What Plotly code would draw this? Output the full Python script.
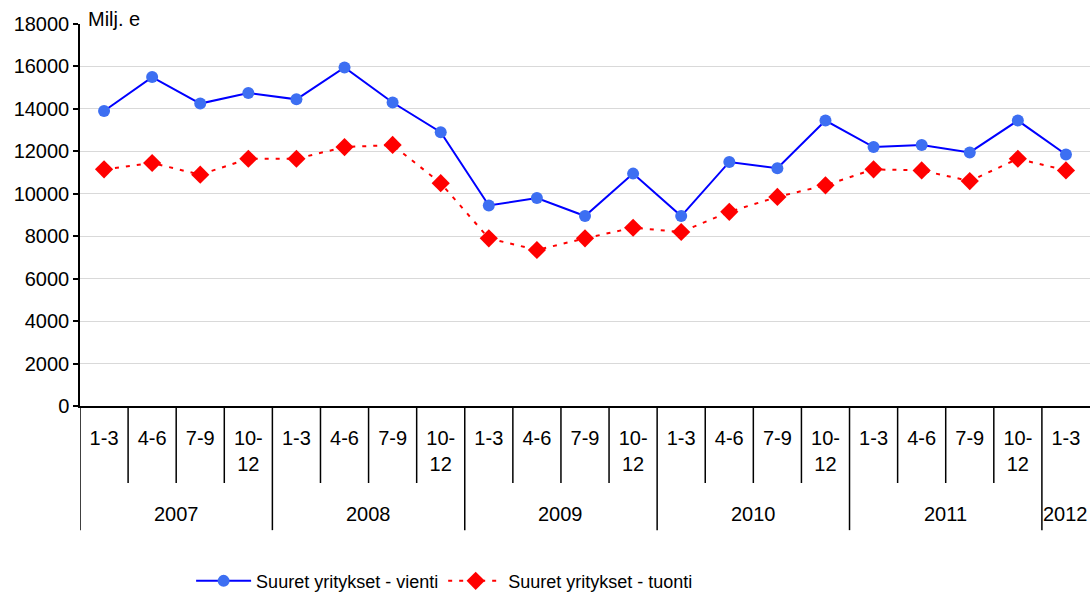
import plotly.graph_objects as go

# ---- data ----
years = ["2007", "2008", "2009", "2010", "2011", "2012"]
quarters_in_year = [4, 4, 4, 4, 4, 1]
quarter_labels = ["1-3", "4-6", "7-9", "10-12"]
vienti = [13900, 15500, 14250, 14750, 14450, 15950, 14300, 12900,
          9450, 9800, 8950, 10950, 8950, 11500, 11200, 13450,
          12200, 12300, 11950, 13450, 11850]
tuonti = [11150, 11450, 10900, 11650, 11650, 12200, 12300, 10500,
          7900, 7350, 7900, 8400, 8200, 9150, 9850, 10400,
          11150, 11100, 10600, 11650, 11100]
y_ticks = [0, 2000, 4000, 6000, 8000, 10000, 12000, 14000, 16000, 18000]
unit_label = "Milj. e"
series_names = ["Suuret yritykset - vienti", "Suuret yritykset - tuonti"]

# build category keys
x_keys, x_text = [], []
for y, n in zip(years, quarters_in_year):
    for q in quarter_labels[:n]:
        x_keys.append(f"{y} {q}")
        x_text.append(q.replace("10-12", "10-<br>12"))

FONT = "Liberation Sans, Arial, sans-serif"
FS = 20

fig = go.Figure()
fig.add_trace(go.Scatter(
    x=x_keys, y=vienti, name=series_names[0], mode="lines+markers",
    line=dict(color="#0000FF", width=2),
    marker=dict(symbol="circle", size=12, color="#3D6FF2"),
))
fig.add_trace(go.Scatter(
    x=x_keys, y=tuonti, name=series_names[1], mode="lines+markers",
    line=dict(color="#FF0000", width=2, dash="4px,7px"),
    marker=dict(symbol="diamond", size=14, color="#FF0000"),
))

# separators below x axis
shapes = []
year_bounds = []
idx = 0
for n in quarters_in_year:
    year_bounds.append(idx - 0.5)
    idx += n
n_cat = len(x_keys)
for i in range(n_cat):
    b = i - 0.5
    y1 = -0.325 if b in year_bounds else -0.2016
    shapes.append(dict(type="line", xref="x", yref="paper", x0=b, x1=b,
                       y0=0, y1=y1, line=dict(color="black", width=1.5)))

annotations = []
idx = 0
for y, n in zip(years, quarters_in_year):
    center = idx + (n - 1) / 2
    annotations.append(dict(x=center, y=-0.283, xref="x", yref="paper",
                            text=y, showarrow=False,
                            font=dict(size=FS, color="black", family=FONT),
                            xanchor="center", yanchor="middle"))
    idx += n
annotations.append(dict(x=6 / 1010, y=1.0 + (24 - 19) / 382,
                        xref="paper", yref="paper",
                        text=unit_label, showarrow=False,
                        font=dict(size=FS, color="black", family=FONT),
                        xanchor="left", yanchor="middle"))

fig.update_layout(
    width=1090, height=600,
    margin=dict(l=80, r=0, t=24, b=194),
    paper_bgcolor="white", plot_bgcolor="white",
    font=dict(family=FONT, size=FS, color="black"),
    showlegend=True,
    legend=dict(orientation="h", x=0.361, xanchor="center", y=-0.507,
                yanchor="bottom", font=dict(size=18, family=FONT),
                itemwidth=55, tracegroupgap=0),
    shapes=shapes,
    annotations=annotations,
    xaxis=dict(
        type="category", range=[-0.5, n_cat - 0.5],
        tickvals=x_keys, ticktext=x_text,
        showgrid=False, showline=True, linecolor="black", linewidth=1.5,
        ticks="", ticklabelstandoff=13,
        tickfont=dict(size=FS, family=FONT, color="black"),
        zeroline=False,
    ),
    yaxis=dict(
        range=[0, 18000], tickvals=y_ticks,
        ticktext=[str(v) for v in y_ticks],
        showgrid=True, gridcolor="#D9D9D9", gridwidth=1,
        showline=True, linecolor="black", linewidth=1.5,
        ticks="outside", ticklen=5, tickcolor="black", tickwidth=1.5,
        tickfont=dict(size=FS, family=FONT, color="black"),
        zeroline=False,
    ),
)

fig.write_html("out.html", config={"displayModeBar": False},
               post_script="document.body.style.margin='0';document.body.style.overflow='hidden';")
